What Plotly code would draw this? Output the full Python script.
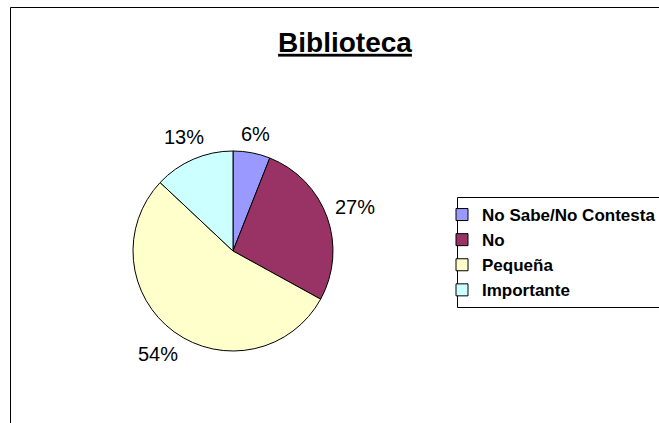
import math
import plotly.graph_objects as go

W, H = 659, 423

categories = ["No Sabe/No Contesta", "No", "Pequeña", "Importante"]
values = [6, 27, 54, 13]
colors = ["#9999FF", "#993366", "#FFFFCC", "#CCFFFF"]
title_text = "Biblioteca"

# pie geometry (pixels)
cx, cy, r = 233, 251, 100
label_size = 20
label_gap = 7

fig = go.Figure()
fig.add_trace(go.Pie(
    labels=["<b>" + c + "</b>" for c in categories],
    values=values,
    sort=False,
    direction="clockwise",
    rotation=0,
    marker=dict(colors=colors, line=dict(color="black", width=1)),
    textinfo="none",
    domain=dict(x=[(cx - r) / W, (cx + r) / W], y=[1 - (cy + r) / H, 1 - (cy - r) / H]),
    hoverinfo="skip",
))

# percentage labels placed outside each slice, derived from the data
annotations = []
total = sum(values)
cum = 0.0
for v in values:
    frac = v / total
    mid = (cum + frac / 2) * 2 * math.pi
    cum += frac
    txt = "%d%%" % round(frac * 100)
    ndig = len(txt) - 1
    w = label_size * (0.556 * ndig + 0.889)
    h = label_size
    s, c = math.sin(mid), math.cos(mid)
    d = r + label_gap + abs(s) * w / 2 + abs(c) * h / 2
    px, py = cx + d * s, cy - d * c
    annotations.append(dict(
        x=px / W, y=1 - py / H, xref="paper", yref="paper",
        text=txt, showarrow=False, xanchor="center", yanchor="middle",
        font=dict(family="Liberation Sans, Arial", size=label_size, color="black"),
    ))

legend_box = dict(x0=457.5, x1=700, y0=197.5, y1=307.5)

fig.update_layout(
    width=W, height=H,
    margin=dict(l=0, r=0, t=0, b=0, autoexpand=False),
    paper_bgcolor="white",
    plot_bgcolor="white",
    font=dict(family="Liberation Sans, Arial", color="black"),
    title=dict(
        text="<b><u>" + title_text + "</u></b>",
        x=345 / W, xanchor="center",
        y=1 - 42 / H, yanchor="middle",
        font=dict(size=28, color="black"),
    ),
    showlegend=True,
    legend=dict(
        x=442 / W, xanchor="left",
        y=1 - 197 / H, yanchor="top",
        borderwidth=0,
        bgcolor="rgba(0,0,0,0)",
        font=dict(family="Liberation Sans, Arial", size=17, color="black"),
        tracegroupgap=0,
        traceorder="normal",
    ),
    annotations=annotations,
    shapes=[
        dict(type="rect", xref="paper", yref="paper",
             x0=10.5 / W, x1=1.2, y0=-0.2, y1=1 - 7.5 / H,
             line=dict(color="black", width=1), layer="below"),
        dict(type="rect", xref="paper", yref="paper",
             x0=legend_box["x0"] / W, x1=legend_box["x1"] / W,
             y0=1 - legend_box["y1"] / H, y1=1 - legend_box["y0"] / H,
             line=dict(color="black", width=1), fillcolor="white", layer="below"),
    ],
)

fig.write_html("out.html", config={"displayModeBar": False},
               post_script="document.body.style.margin='0';")
